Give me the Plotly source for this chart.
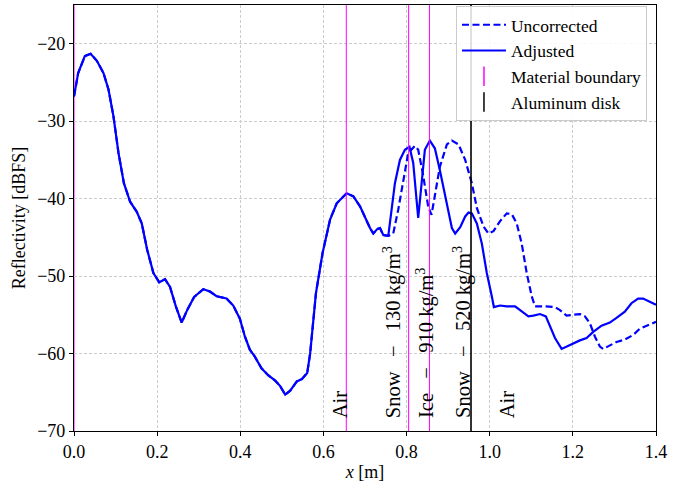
import plotly.graph_objects as go

# Shared part of both curves (x <= 0.756 m)
common_x = [0.000, 0.010, 0.026, 0.040, 0.055, 0.071, 0.083, 0.095, 0.107, 0.120,
            0.135, 0.151, 0.163, 0.176, 0.191, 0.205, 0.219, 0.231, 0.245, 0.259,
            0.273, 0.289, 0.311, 0.327, 0.343, 0.367, 0.383, 0.399, 0.411, 0.423,
            0.435, 0.451, 0.467, 0.484, 0.496, 0.508, 0.520, 0.536, 0.548, 0.561,
            0.568, 0.574, 0.582, 0.590, 0.598, 0.616, 0.632, 0.656, 0.672, 0.688,
            0.700, 0.712, 0.720, 0.730, 0.736, 0.744, 0.756]
common_y = [-26.8, -23.8, -21.6, -21.3, -22.2, -23.8, -25.9, -29.4, -34.1, -38.0,
            -40.4, -41.7, -43.2, -46.6, -49.6, -50.8, -50.4, -51.4, -53.9, -56.0,
            -54.3, -52.7, -51.7, -52.0, -52.6, -52.9, -53.8, -55.5, -57.8, -59.5,
            -60.4, -61.9, -62.8, -63.5, -64.2, -65.3, -64.8, -63.6, -63.3, -62.5,
            -60.0, -56.5, -52.2, -49.6, -47.0, -42.7, -40.6, -39.3, -39.7, -41.0,
            -42.5, -43.8, -44.5, -43.9, -43.8, -44.7, -44.8]

# Adjusted curve beyond the shared part
adj_x = [0.764, 0.772, 0.784,
         0.796, 0.807, 0.816, 0.828, 0.836, 0.844, 0.856, 0.868, 0.880, 0.897,
         0.909, 0.917, 0.929, 0.941, 0.949, 0.957, 0.969, 0.981, 0.993, 1.005,
         1.010, 1.025, 1.041, 1.061, 1.077, 1.093, 1.105, 1.121, 1.135, 1.145,
         1.157, 1.173, 1.185, 1.201, 1.217, 1.233, 1.249, 1.269, 1.289, 1.305,
         1.325, 1.341, 1.357, 1.369, 1.385, 1.400]
adj_y = [-41.4, -38.0, -35.0,
         -33.7, -33.3, -35.4, -42.5, -37.6, -33.7, -32.5, -33.5, -36.3, -40.6,
         -43.8, -44.5, -43.7, -42.3, -41.8, -41.9, -43.2, -45.8, -49.6, -52.6,
         -54.0, -53.8, -53.9, -53.9, -54.6, -55.2, -55.1, -54.9, -55.2, -56.5,
         -58.0, -59.4, -59.1, -58.6, -58.3, -58.0, -57.2, -56.4, -56.0, -55.4,
         -54.6, -53.5, -52.9, -52.9, -53.3, -53.7]

# Uncorrected curve beyond the shared part
unc_x = [0.768, 0.780, 0.792, 0.804, 0.820, 0.828, 0.839, 0.852, 0.860, 0.868,
         0.880, 0.897, 0.909, 0.925, 0.941, 0.957, 0.969, 0.985, 0.997, 1.009,
         1.025, 1.041, 1.053, 1.065, 1.077, 1.089, 1.101, 1.109, 1.129, 1.157,
         1.169, 1.185, 1.201, 1.217, 1.229, 1.241, 1.253, 1.265, 1.273, 1.289,
         1.305, 1.325, 1.345, 1.361, 1.377, 1.400]
unc_y = [-44.5, -41.4, -37.6, -34.1, -33.2, -33.7, -36.7, -41.0, -42.1, -39.7,
         -35.9, -33.0, -32.5, -33.0, -35.0, -38.0, -41.2, -43.6, -44.5, -44.2,
         -42.9, -41.9, -42.0, -43.2, -45.8, -49.6, -52.6, -53.9, -53.9, -54.0,
         -54.4, -55.1, -55.0, -54.9, -55.2, -56.1, -57.8, -59.1, -59.4, -58.9,
         -58.5, -58.2, -57.6, -56.8, -56.4, -55.9]

boundaries = [0.0, 0.655, 0.805, 0.855]
disk_x = 0.955

SP = "\u00a0\u00a0\u2009"
layer_labels = ["Air",
                "Snow" + SP + "−" + SP + "130 kg/m<sup>3</sup>",
                "Ice" + SP + "−" + SP + "910 kg/m<sup>3</sup>",
                "Snow" + SP + "−" + SP + "520 kg/m<sup>3</sup>",
                "Air"]
label_x = [0.640, 0.765, 0.844, 0.933, 1.042]
label_y = -68.6

FONT = "Liberation Serif, Times New Roman, serif"
BLUE = "#0000ff"

fig = go.Figure()
fig.add_trace(go.Scatter(x=common_x + unc_x, y=common_y + unc_y, mode="lines",
                         name="Uncorrected",
                         line=dict(color=BLUE, width=2.2, dash="7px,3.5px")))
fig.add_trace(go.Scatter(x=common_x + adj_x, y=common_y + adj_y, mode="lines",
                         name="Adjusted", line=dict(color=BLUE, width=2.2)))
fig.add_trace(go.Scatter(x=[None], y=[None], mode="markers", name="Material boundary",
                         marker=dict(symbol="line-ns", size=14,
                                     line=dict(color="#ff00ff", width=1.5))))
fig.add_trace(go.Scatter(x=[None], y=[None], mode="markers", name="Aluminum disk",
                         marker=dict(symbol="line-ns", size=14,
                                     line=dict(color="black", width=1.5))))

for b in boundaries:
    fig.add_shape(type="line", xref="x", yref="paper", x0=b, x1=b, y0=0, y1=1,
                  line=dict(color="#ff00ff", width=1),
                  layer="below" if b == 0 else "above")
fig.add_shape(type="line", xref="x", yref="paper", x0=disk_x, x1=disk_x, y0=0, y1=1,
              line=dict(color="black", width=1.6), layer="above")

for t, xv in zip(layer_labels, label_x):
    fig.add_annotation(x=xv, y=label_y, text=t, textangle=-90, showarrow=False,
                       xanchor="center", yanchor="bottom",
                       font=dict(family=FONT, size=20.5, color="black"))

axis_common = dict(showline=True, linecolor="black", linewidth=1.2, mirror=True,
                   ticks="outside", ticklen=4, tickcolor="black",
                   showgrid=True, gridcolor="#cccccc", griddash="3px,2px", gridwidth=0.8,
                   zeroline=False, tickfont=dict(family=FONT, size=18, color="black"))

fig.update_xaxes(range=[0, 1.4], tickvals=[0, 0.2, 0.4, 0.6, 0.8, 1.0, 1.2, 1.4],
                 ticktext=["0.0", "0.2", "0.4", "0.6", "0.8", "1.0", "1.2", "1.4"],
                 title=dict(text="<i>x</i> [m]", font=dict(family=FONT, size=18, color="black"),
                            standoff=4),
                 **axis_common)
fig.update_yaxes(range=[-70, -15], tickvals=[-70, -60, -50, -40, -30, -20],
                 ticktext=["−70", "−60", "−50", "−40", "−30", "−20"],
                 title=dict(text="Reflectivity [dBFS]",
                            font=dict(family=FONT, size=18, color="black"), standoff=6),
                 **axis_common)

fig.update_layout(
    width=681, height=487,
    margin=dict(l=74, r=25, t=5, b=56, autoexpand=False),
    plot_bgcolor="white", paper_bgcolor="white",
    font=dict(family=FONT, size=17.5, color="black"),
    legend=dict(x=0.9845, y=0.998, xanchor="right", yanchor="top",
                bgcolor="rgba(255,255,255,0.85)", bordercolor="#cccccc", borderwidth=1,
                font=dict(family=FONT, size=17.5, color="black"), itemwidth=44),
    showlegend=True,
)

fig.write_html("out.html", config={"displayModeBar": False},
               post_script="document.body.style.margin='0';")
